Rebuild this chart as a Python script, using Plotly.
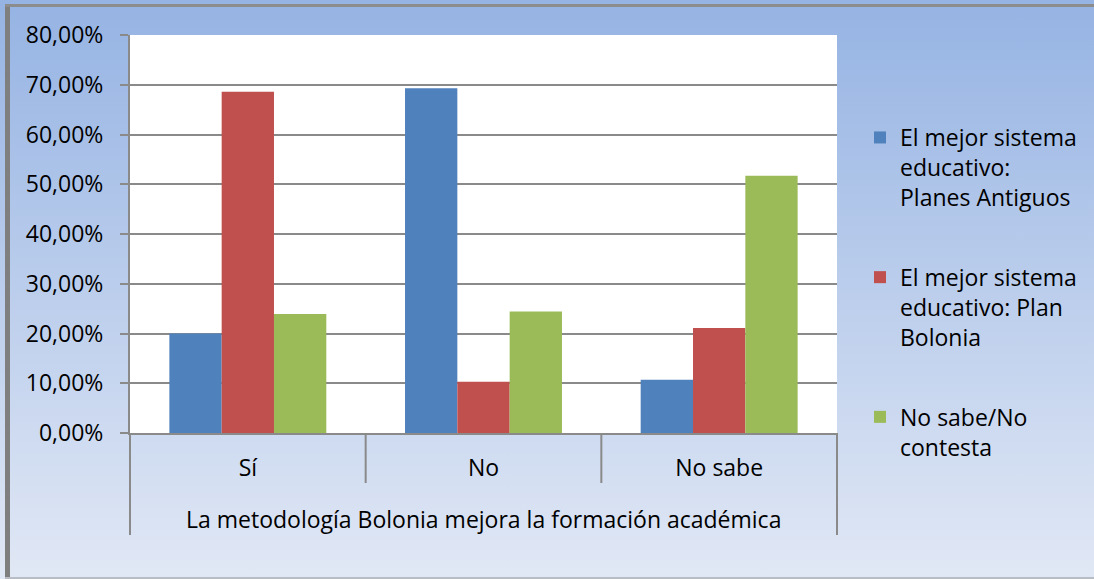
import base64
import plotly.graph_objects as go

categorias = ["Sí", "No", "No sabe"]
antiguos = [20.0, 69.3, 10.7]
bolonia = [68.6, 10.3, 21.1]
no_sabe = [23.9, 24.4, 51.7]
series = [
    ("El mejor sistema<br>educativo:<br>Planes Antiguos", antiguos, "#4F81BD"),
    ("El mejor sistema<br>educativo: Plan<br>Bolonia", bolonia, "#C0504D"),
    ("No sabe/No<br>contesta", no_sabe, "#9BBB59"),
]
titulo_x = "La metodología Bolonia mejora la formación académica"

W, H = 1094, 579
L, R, T, B = 130, 837, 35, 433
FONT = "Open Sans"
FS = 23
GRIS = "#8a8a8a"


def px(p):
    return (p - L) / (R - L)


def py(p):
    return (B - p) / (B - T)


fig = go.Figure()
for i, (nombre, vals, color) in enumerate(series):
    fig.add_trace(go.Bar(x=categorias, y=vals, name=nombre, marker_color=color,
                         marker_line_width=0, legendgroup=str(i)))

# fondo degradado
svg = ('<svg xmlns="http://www.w3.org/2000/svg" width="100" height="100" viewBox="0 0 100 100" '
       'preserveAspectRatio="none"><defs><linearGradient id="g" x1="0" y1="0" x2="0" y2="1">'
       '<stop offset="0" stop-color="#95B3E3"/><stop offset="1" stop-color="#E1E8F5"/>'
       '</linearGradient></defs><rect width="100" height="100" fill="url(#g)"/></svg>')
fondo = "data:image/svg+xml;base64," + base64.b64encode(svg.encode()).decode()
fig.add_layout_image(source=fondo, xref="paper", yref="paper", x=px(0), y=py(0),
                     sizex=px(W) - px(0), sizey=py(0) - py(H), sizing="stretch",
                     xanchor="left", yanchor="top", layer="below")

shapes = [
    dict(type="rect", xref="paper", yref="paper", x0=0, x1=1, y0=0, y1=1,
         fillcolor="white", line_width=0, layer="below"),
    # bordes
    dict(type="rect", xref="paper", yref="paper", x0=px(5), x1=px(10), y0=py(4), y1=py(H),
         fillcolor="#7f7f7f", line_width=0),
    dict(type="rect", xref="paper", yref="paper", x0=px(5), x1=px(W), y0=py(4), y1=py(7),
         fillcolor="#8c8c8c", line_width=0),
    dict(type="rect", xref="paper", yref="paper", x0=px(5), x1=px(W), y0=py(577), y1=py(H),
         fillcolor="#b8bcc4", line_width=0),
]
# separadores de categorías
for k in range(len(categorias) + 1):
    xk = k / len(categorias)
    bajo = 535 if k in (0, len(categorias)) else 483
    shapes.append(dict(type="line", xref="paper", yref="paper", x0=xk, x1=xk,
                       y0=0, y1=py(bajo), line=dict(color=GRIS, width=2)))
fig.update_layout(shapes=shapes)

fig.add_annotation(text=titulo_x, xref="paper", yref="paper", x=0.5, y=py(519),
                   showarrow=False, xanchor="center", yanchor="middle",
                   font=dict(family=FONT, size=FS, color="black"))

fig.update_layout(
    width=W, height=H, autosize=False,
    margin=dict(l=L, r=W - R, t=T, b=H - B),
    paper_bgcolor="white", plot_bgcolor="rgba(0,0,0,0)",
    separators=",.",
    font=dict(family=FONT, size=FS, color="black"),
    barmode="group", bargap=0.334, bargroupgap=0,
    legend=dict(x=px(860), y=py(116), xanchor="left", yanchor="top",
                bgcolor="rgba(0,0,0,0)", tracegroupgap=47, valign="top",
                font=dict(family=FONT, size=FS)),
    xaxis=dict(type="category", showline=True, linecolor=GRIS, linewidth=2,
               ticks="", showgrid=False, ticklabelstandoff=13,
               tickfont=dict(family=FONT, size=FS)),
    yaxis=dict(range=[0, 80], dtick=10, tickformat=".2f", ticksuffix="%",
               showgrid=True, gridcolor=GRIS, gridwidth=2,
               showline=True, linecolor=GRIS, linewidth=2,
               ticks="outside", ticklen=8, tickcolor=GRIS, tickwidth=2,
               ticklabelstandoff=12, zeroline=False,
               tickfont=dict(family=FONT, size=FS)),
)

fig.write_html("out.html", config={"displayModeBar": False},
               post_script="document.body.style.margin='0';")
